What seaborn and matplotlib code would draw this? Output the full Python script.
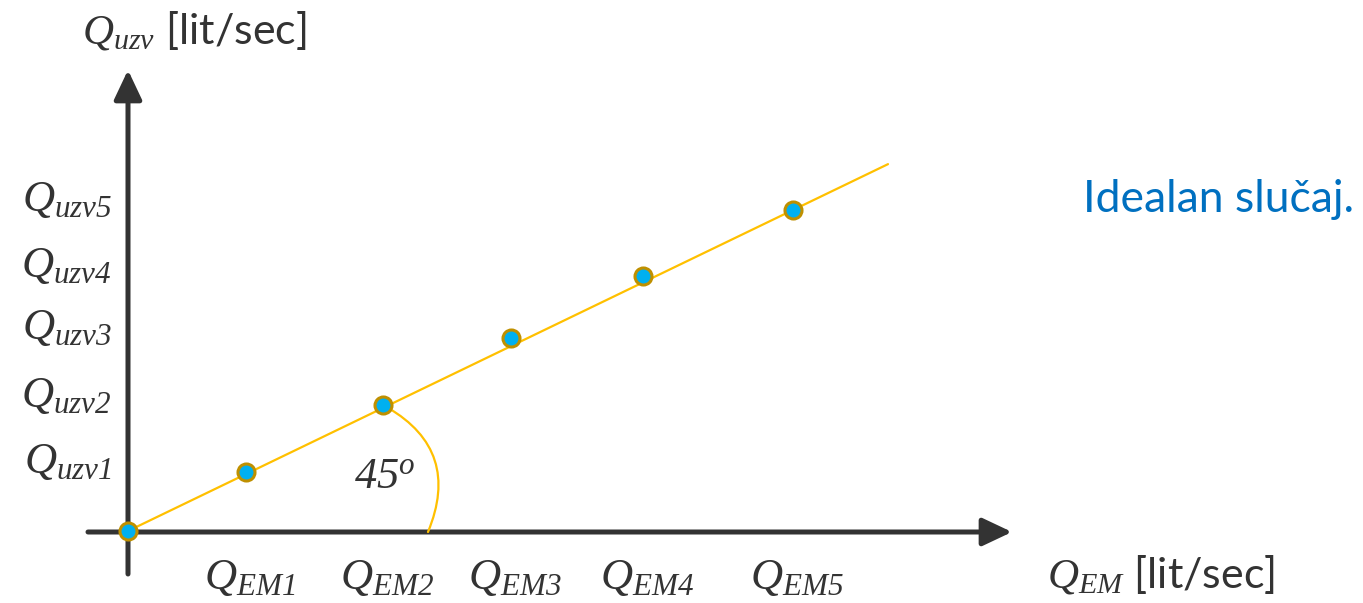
import numpy as np
import matplotlib
matplotlib.use('Agg')
import matplotlib.pyplot as plt
import seaborn as sns
from matplotlib.patches import FancyArrowPatch

sns.set_style('white')
plt.rcParams['font.family'] = ['Lato', 'DejaVu Sans']
plt.rcParams['mathtext.fontset'] = 'custom'
plt.rcParams['mathtext.it'] = 'Liberation Serif:italic'
plt.rcParams['mathtext.rm'] = 'Liberation Serif:italic'

# Data (ideal case: measured flow equals reference flow)
q_em = [0, 118, 255, 383, 515, 665]
q_uzv = [0, 59, 126, 193, 255, 321]
x_labels = ['EM1', 'EM2', 'EM3', 'EM4', 'EM5']
y_labels = ['uzv1', 'uzv2', 'uzv3', 'uzv4', 'uzv5']
line_end = 760
arc_end = 300

axis_color = '#333333'
line_color = '#FFC000'
point_face = '#00B0F0'
point_edge = '#BF9000'

fig = plt.figure(figsize=(13.63, 6.03), dpi=100)
ax = fig.add_axes([0, 0, 1, 1])
ax.set_xlim(-128, 1235)
ax.set_ylim(-72, 531)
ax.axis('off')

# axis arrows
for start, end in [((0, -43), (0, 461)), ((-40, -1), (884, -1))]:
    arr = FancyArrowPatch(start, end, arrowstyle='-|>,head_length=18,head_width=8.5',
                          mutation_scale=1, lw=3.6, color=axis_color,
                          shrinkA=0, shrinkB=0, zorder=2)
    ax.add_patch(arr)

# line through origin and the points
slope = q_uzv[-1] / q_em[-1]
lx = np.array([0, line_end])
sns.lineplot(x=lx, y=slope * lx, color=line_color, lw=1.6, ax=ax, zorder=3)
sns.scatterplot(x=q_em, y=q_uzv, s=150, color=point_face, edgecolor=point_edge,
                linewidth=2.2, ax=ax, zorder=4)

# 45 degree arc
ax.annotate('', xy=(arc_end, -1), xytext=(q_em[2], q_uzv[2]),
            arrowprops=dict(arrowstyle='-', color=line_color, lw=1.6,
                            shrinkA=4, shrinkB=0,
                            connectionstyle='arc3,rad=-0.45'), zorder=3)
ax.text(257, 55, r'$45^{o}$', fontsize=32, ha='center', va='center',
        color=axis_color)

# tick labels
for x, lab in zip(q_em[1:], x_labels):
    ax.text(x + 4, -46, r'$Q_{%s}$' % lab, fontsize=32,
            ha='center', va='center', color=axis_color)
for y, lab in zip(q_uzv[1:], y_labels):
    ax.text(-16, y + 10, r'$Q_{%s}$' % lab, fontsize=32,
            ha='right', va='center', color=axis_color)

# axis titles
ax.text(-46, 500, r'$Q_{uzv}$ [lit/sec]', fontsize=31,
        ha='left', va='center', color=axis_color)
ax.text(919, -44, r'$Q_{EM}$ [lit/sec]', fontsize=31,
        ha='left', va='center', color=axis_color)

ax.text(955, 331, 'Idealan slučaj.', fontsize=32, color='#0070C0',
        ha='left', va='center')

fig.savefig('out.png', dpi=100)
